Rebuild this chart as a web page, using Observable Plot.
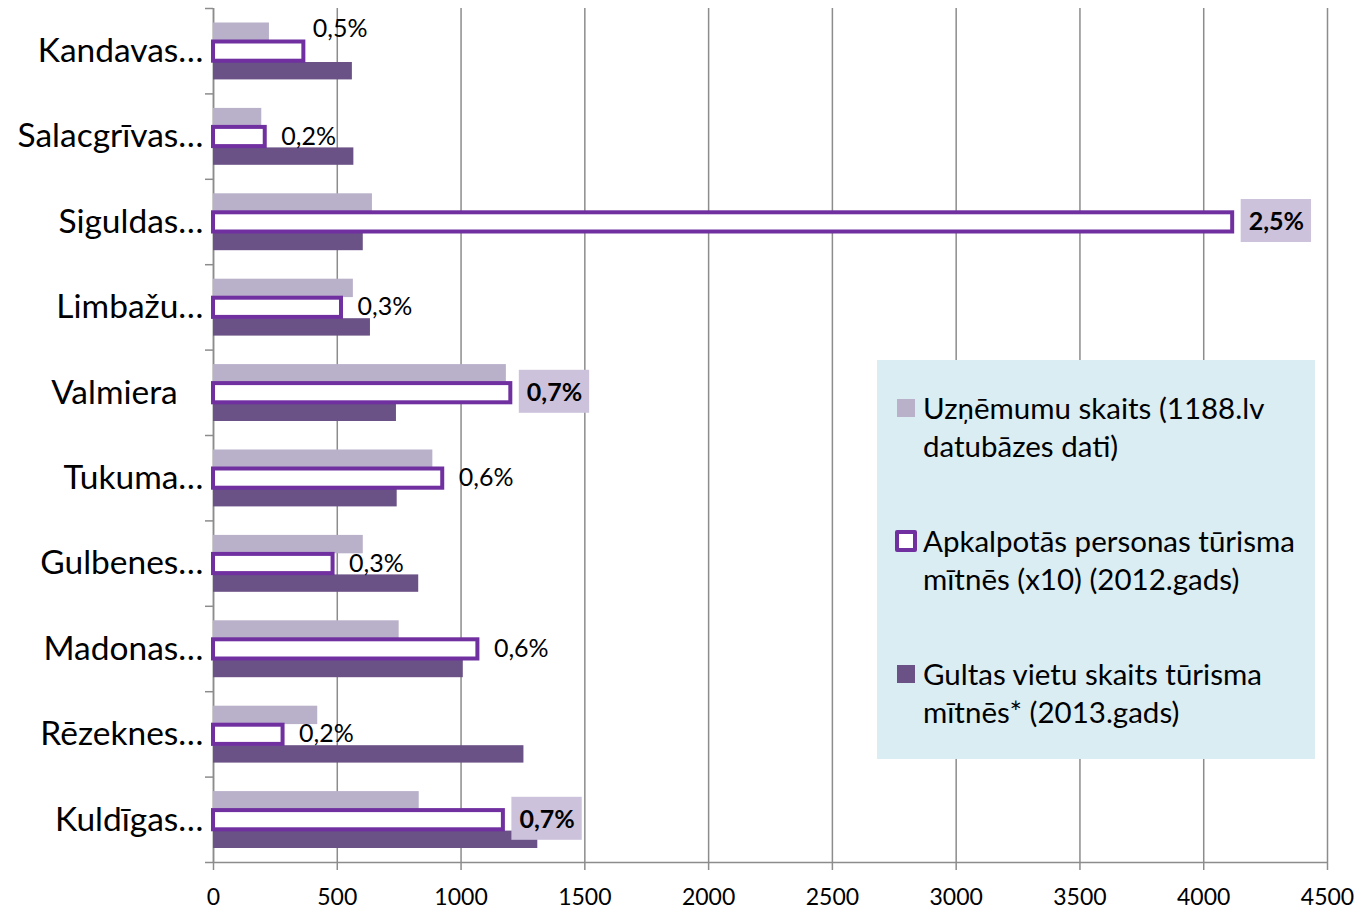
<!DOCTYPE html>
<html>
<head>
<meta charset="utf-8">
<script src="https://cdn.jsdelivr.net/npm/d3@7"></script>
<script src="https://cdn.jsdelivr.net/npm/@observablehq/plot@0.6"></script>
<style>
  body { margin: 0; background: #fff; }
  #wrap { position: relative; width: 1359px; height: 909px; overflow: hidden; font-family: Lato, sans-serif; background: #fff; }
  #wrap svg { position: absolute; left: 0; top: 0; }
  #legend { position: absolute; left: 877px; top: 360px; width: 438px; height: 399px; background: #daedf3; }
  .item { position: absolute; left: 46px; width: 388px; font-size: 29.5px; line-height: 38px; color: #000; }
  .sw { position: absolute; box-sizing: border-box; }
</style>
</head>
<body>
<div id="wrap"></div>
<script>
// ---- data ----
const categories = ["Kandavas…", "Salacgrīvas…", "Siguldas…", "Limbažu…", "Valmiera\u00a0\u00a0\u00a0", "Tukuma…", "Gulbenes…", "Madonas…", "Rēzeknes…", "Kuldīgas…"];
const companies = [226, 195, 642, 565, 1183, 886, 605, 750, 421, 831];      // Uzņēmumu skaits
const served    = [365, 209, 4117, 517, 1201, 926, 483, 1068, 281, 1171];  // Apkalpotās personas (x10)
const beds      = [561, 567, 605, 634, 739, 742, 829, 1009, 1254, 1310];   // Gultas vietu skaits
const shares    = ["0,5%", "0,2%", "2,5%", "0,3%", "0,7%", "0,6%", "0,3%", "0,6%", "0,2%", "0,7%"];
const highlighted = [false, false, true, false, true, false, false, false, false, true];
const seriesNames = [
  "Uzņēmumu skaits (1188.lv datubāzes dati)",
  "Apkalpotās personas tūrisma mītnēs (x10) (2012.gads)",
  "Gultas vietu skaits tūrisma mītnēs* (2013.gads)"
];
const xTicks = [0, 500, 1000, 1500, 2000, 2500, 3000, 3500, 4000, 4500];

// ---- styles ----
const lightColor = "#b9b0ca";
const darkColor = "#6a5186";
const hollowColor = "#7030a0";
const boxColor = "#ccc2dc";
const gray = "#8c8c8c";

const rows = categories.map((name, i) => ({
  name, i, companies: companies[i], served: served[i], beds: beds[i],
  share: shares[i], hl: highlighted[i]
}));
const n = categories.length;
const centers = categories.map((_, i) => i + 0.5);
const boundaries = d3.range(n + 1);

const chart = Plot.plot({
  width: 1359, height: 909,
  marginLeft: 213, marginRight: 32, marginTop: 8, marginBottom: 47,
  style: { fontFamily: "Lato, sans-serif", color: "#000", background: "transparent", overflow: "visible" },
  x: { domain: [0, 4500] },
  y: { domain: [0, n], reverse: true },
  marks: [
    Plot.gridX({ ticks: xTicks, stroke: gray, strokeOpacity: 1, strokeWidth: 1.5 }),
    Plot.ruleX([0], { stroke: gray, strokeWidth: 1.5 }),
    Plot.ruleY([n], { stroke: gray, strokeWidth: 1.5 }),
    Plot.axisY({ ticks: boundaries, tickSize: 8, tickFormat: () => "", label: null, stroke: gray, strokeWidth: 1.5, strokeOpacity: 1 }),
    Plot.axisY({ ticks: centers, tickSize: 0, tickPadding: 10, tickFormat: v => categories[Math.floor(v)], label: null, fontSize: 33.5, fill: "#000" }),
    Plot.axisX({ ticks: xTicks, tickSize: 8, tickPadding: 18, tickFormat: d => String(d), label: null, fontSize: 23, stroke: gray, strokeWidth: 1.5, strokeOpacity: 1, fill: "#000" }),
    Plot.rect(rows, { x1: 0, x2: "companies", y1: "i", y2: d => d.i + 1, insetTop: 14.5, insetBottom: 52.5, fill: lightColor }),
    Plot.rect(rows, { x1: 0, x2: "beds", y1: "i", y2: d => d.i + 1, insetTop: 54, insetBottom: 14, fill: darkColor }),
    Plot.rect(rows, { x1: 0, x2: "served", y1: "i", y2: d => d.i + 1, insetTop: 33.5, insetBottom: 32.7, fill: "white", stroke: hollowColor, strokeWidth: 4 }),
    Plot.text(rows.filter(d => !d.hl && d.i > 0), { x: "served", y: d => d.i + 0.5, text: "share", textAnchor: "start", dx: 16, fontSize: 25, fill: "#000" }),
    Plot.text(rows.filter(d => d.i === 0), { x: "served", y: d => d.i + 0.5, text: "share", textAnchor: "start", dx: 9, dy: -22, fontSize: 25, fill: "#000" }),
    Plot.text(rows.filter(d => d.hl), { x: "served", y: d => d.i + 0.5, text: "share", textAnchor: "start", dx: 16, fontSize: 25, fontWeight: "bold", fill: "#000" })
  ]
});

const wrap = document.getElementById("wrap");
wrap.appendChild(chart);

// boxes behind highlighted labels
chart.querySelectorAll('g[font-weight="bold"] text').forEach(t => {
  const b = t.getBBox();
  const cy = b.y + b.height / 2;
  const r = document.createElementNS("http://www.w3.org/2000/svg", "rect");
  r.setAttribute("x", b.x - 8);
  r.setAttribute("y", cy - 21);
  r.setAttribute("width", b.width + 15);
  r.setAttribute("height", 43);
  r.setAttribute("fill", boxColor);
  const tr = t.getAttribute("transform");
  if (tr) r.setAttribute("transform", tr);
  t.parentNode.insertBefore(r, t);
});

// legend
const legend = document.createElement("div");
legend.id = "legend";
const tops = [29, 162, 295];
const swatches = [
  { left: -26, top: 10, size: 18, style: `background:${lightColor};` },
  { left: -28, top: 8, size: 22, style: `background:#fff;border:4px solid ${hollowColor};border-radius:2px;` },
  { left: -26, top: 10, size: 18, style: `background:${darkColor};` }
];
seriesNames.forEach((name, k) => {
  const it = document.createElement("div");
  it.className = "item";
  it.style.top = tops[k] + "px";
  it.textContent = name;
  const s = swatches[k];
  const sw = document.createElement("div");
  sw.className = "sw";
  sw.style.cssText = `left:${s.left}px;top:${s.top}px;width:${s.size}px;height:${s.size}px;` + s.style;
  it.appendChild(sw);
  legend.appendChild(it);
});
wrap.appendChild(legend);
</script>
</body>
</html>
